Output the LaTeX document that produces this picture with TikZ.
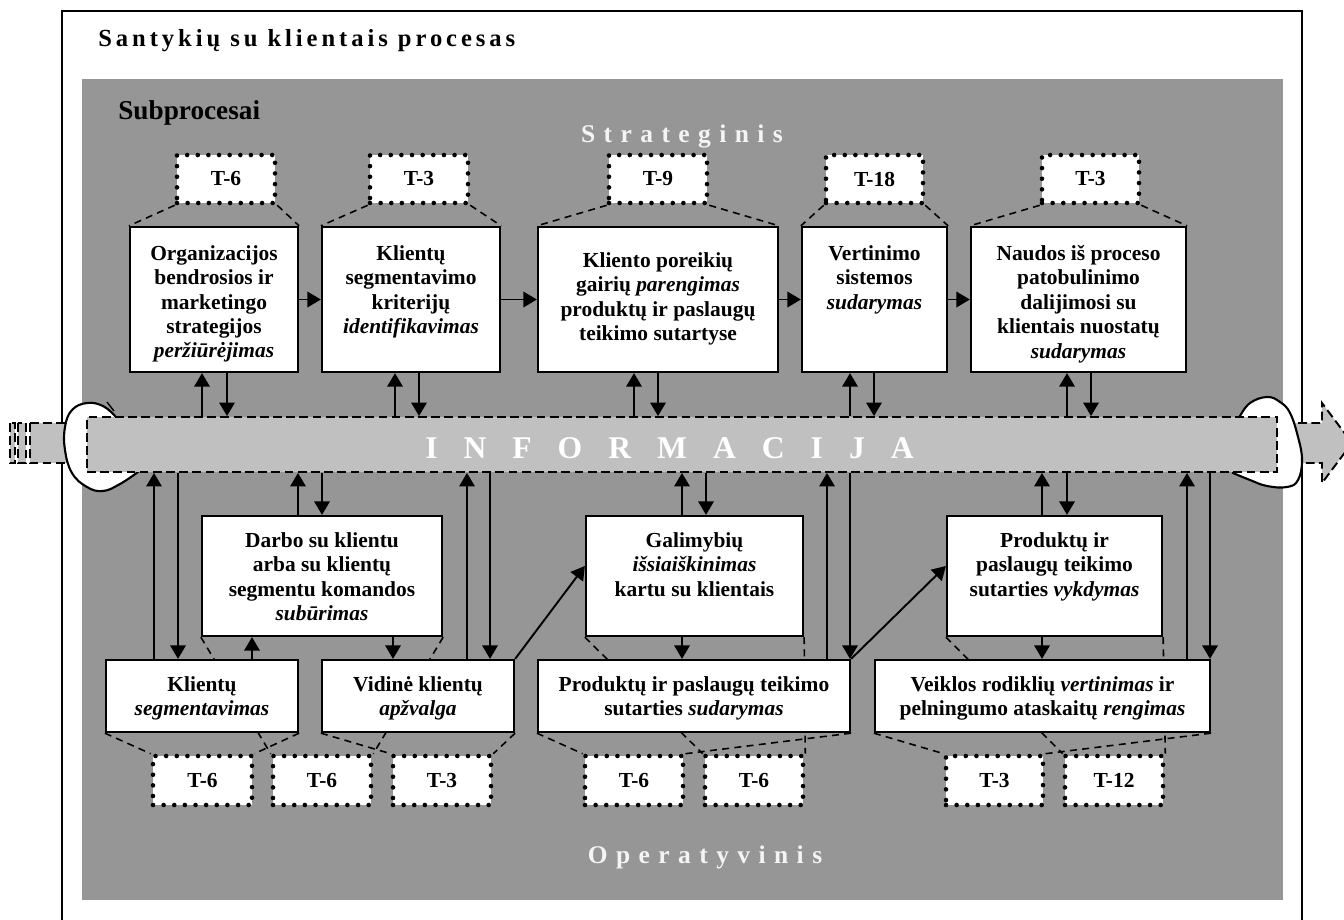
\documentclass[tikz,border=0pt]{standalone}
\usepackage{fontspec}
\setmainfont{Liberation Serif}
\usetikzlibrary{arrows.meta,fit}
\definecolor{panel}{RGB}{150,150,150}
\definecolor{bandgray}{RGB}{192,192,192}
\definecolor{pale}{RGB}{244,244,244}
\pgfdeclarelayer{under}
\pgfdeclarelayer{guides}
\pgfsetlayers{under,guides,main}
\tikzset{
  box/.style={draw, line width=1.3pt, fill=white, inner sep=0pt},
  tbox/.style={draw, fill=white, inner sep=0pt, line width=2.6pt, line cap=round,
    dash pattern=on 0pt off 6.05pt},
  tlabel/.style={font=\bfseries\fontsize{12.2}{14}\selectfont, inner sep=0pt},
  txt/.style={font=\bfseries\fontsize{12.2}{13.9}\selectfont, align=center, inner sep=0pt, anchor=north},
  link/.style={line width=1.1pt, -{Triangle[length=0.27cm,width=0.31cm]}},
  guide/.style={line width=0.9pt, dash pattern=on 4pt off 3pt},
  bandline/.style={line width=1.1pt, dash pattern=on 5pt off 2.5pt},
  blob/.style={line width=1.2pt, fill=white},
}
\begin{document}
\begin{tikzpicture}[x=0.02cm,y=-0.02cm]
\useasboundingbox (0,0) rectangle (1344,919);

% ---------- background: frame, panel, flow of information ----------
\begin{pgfonlayer}{under}
  \draw[line width=1.2pt] (62,930) -- (62,11) -- (1302,11) -- (1302,930);
  \fill[panel] (82,79) rectangle (1283,900);
  % striped tail on the left
  \draw[bandline, fill=bandgray] (10,423) rectangle (15,463);
  \draw[bandline, fill=bandgray] (18,423) rectangle (26,463);
  \draw[bandline, fill=bandgray] (30,423) rectangle (80,463);
  % arrow head on the right
  \draw[bandline, fill=bandgray] (1285,423) -- (1322,423) -- (1322,403) -- (1352,443)
        -- (1322,483) -- (1322,463) -- (1285,463) -- cycle;
  % rounded caps at both ends of the band
  \draw[blob] plot[smooth, tension=0.7] coordinates {(138,472) (120,484) (103,491) (87,487)
        (72,473) (65,450) (65,427) (72,410) (87,403) (103,406) (115,416)} -- (125,445) -- cycle;
  \draw[line width=0.8pt] (107,402) -- (114,411);
  \draw[blob] plot[smooth, tension=0.7] coordinates {(1233,473) (1250,480) (1267,486) (1287,487)
        (1298,480) (1302,460) (1298,437) (1290,413) (1280,402) (1267,397) (1250,403) (1240,416)}
        -- (1236,445) -- cycle;
\end{pgfonlayer}

% ---------- information band ----------
\node[draw, fill=bandgray, bandline, inner sep=0pt, fit={(87,417) (1277,472)}] (band) {};
\node[font=\bfseries\fontsize{18}{20}\selectfont, text=white, anchor=base, inner sep=0pt]
  (info) at (669.5,458) {\spaceskip=14.8pt I N F O R M A C I J A};

% ---------- headings ----------
\node[anchor=base west, inner sep=0pt,
  font=\bfseries\fontsize{14}{16}\selectfont\addfontfeatures{LetterSpace=16}]
  (title) at (98,47) {Santykių su klientais procesas};
\node[anchor=base west, inner sep=0pt, font=\bfseries\fontsize{15.5}{18}\selectfont]
  (sub) at (118,119) {Subprocesai};
\node[anchor=base, inner sep=0pt, text=pale, font=\bfseries\fontsize{14.5}{17}\selectfont]
  (strat) at (682,142) {\spaceskip=4.8pt S t r a t e g i n i s};
\node[anchor=base, inner sep=0pt, text=pale, font=\bfseries\fontsize{14.5}{17}\selectfont]
  (oper) at (705,863) {\spaceskip=4.8pt O p e r a t y v i n i s};

% ---------- strategic subprocesses ----------
\node[box, fit={(130,227) (298,372)}] (b1) {};
\node[box, fit={(322,227) (500,372)}] (b2) {};
\node[box, fit={(538,227) (778,372)}] (b3) {};
\node[box, fit={(802,227) (947,372)}] (b4) {};
\node[box, fit={(971,227) (1186,372)}] (b5) {};
\node[txt] (b1t) at (214,245) {Organizacijos\\bendrosios ir\\marketingo\\strategijos\\\textit{peržiūrėjimas}};
\node[txt] (b2t) at (411,245) {Klientų\\segmentavimo\\kriterijų\\\textit{identifikavimas}};
\node[txt] (b3t) at (658,252) {Kliento poreikių\\gairių \textit{parengimas}\\produktų ir paslaugų\\teikimo sutartyse};
\node[txt] (b4t) at (874.5,245) {Vertinimo\\sistemos\\\textit{sudarymas}};
\node[txt] (b5t) at (1078.5,245) {Naudos iš proceso\\patobulinimo\\dalijimosi su\\klientais nuostatų\\\textit{sudarymas}};

% ---------- operative subprocesses ----------
\node[box, fit={(202,516) (442,636)}] (dar) {};
\node[box, fit={(586,516) (803,636)}] (gal) {};
\node[box, fit={(947,516) (1162,636)}] (vyk) {};
\node[box, fit={(106,660) (298,732)}] (seg) {};
\node[box, fit={(322,660) (514,732)}] (vid) {};
\node[box, fit={(538,660) (850,732)}] (sut) {};
\node[box, fit={(875,660) (1210,732)}] (vei) {};
\node[txt] (dart) at (322,532) {Darbo su klientu\\arba su klientų\\segmentu komandos\\\textit{subūrimas}};
\node[txt] (galt) at (694.5,532) {Galimybių\\\textit{išsiaiškinimas}\\kartu su klientais};
\node[txt] (vykt) at (1054.5,532) {Produktų ir\\paslaugų teikimo\\sutarties \textit{vykdymas}};
\node[txt] (segt) at (202,676) {Klientų\\\textit{segmentavimas}};
\node[txt] (vidt) at (418,676) {Vidinė klientų\\\textit{apžvalga}};
\node[txt] (sutt) at (694,676) {Produktų ir paslaugų teikimo\\sutarties \textit{sudarymas}};
\node[txt] (veit) at (1042.5,676) {Veiklos rodiklių \textit{vertinimas} ir\\pelningumo ataskaitų \textit{rengimas}};

% ---------- durations ----------
\foreach \n/\xa/\ya/\xb/\yb/\lab in {
    ta/177/155/275/203/T-6, tb/370/155/468/203/T-3, tc/609/155/707/203/T-9,
    td/826/155/923/203/T-18, te/1042/155/1139/203/T-3,
    tf/153/756/252/805/T-6, tg/273/756/371/805/T-6, th/393/756/491/805/T-3,
    ti/585/756/683/805/T-6, tj/705/756/803/805/T-6, tk/946/756/1043/805/T-3,
    tl/1065/756/1163/805/T-12} {
  \node[tbox, fit={(\xa,\ya) (\xb,\yb)}, label={[tlabel]center:\lab}] (\n) {};
}

% ---------- guides from durations to subprocesses ----------
\begin{pgfonlayer}{guides}
  \foreach \t/\b in {ta/b1, tb/b2, tc/b3, td/b4, te/b5} {
    \draw[guide] (\t.south west) -- (\b.north west);
    \draw[guide] (\t.south east) -- (\b.north east);
  }
  \foreach \b/\t in {seg/tf, dar/tg, vid/th, sut/ti, gal/tj, vei/tk, vyk/tl} {
    \draw[guide] (\b.south west) -- (\t.north west);
    \draw[guide] (\b.south east) -- (\t.north east);
  }
\end{pgfonlayer}

% ---------- flow between strategic subprocesses ----------
\draw[link] (b1.east) -- (b2.west);
\draw[link] (b2.east) -- (b3.west);
\draw[link] (b3.east) -- (b4.west);
\draw[link] (b4.east) -- (b5.west);

% ---------- exchange with the information band (strategic) ----------
\foreach \b/\u/\d in {b1/202/227, b2/395/419, b3/634/658, b4/850/874, b5/1067/1091} {
  \draw[link] (band.north -| \u,0) -- (\b.south -| \u,0);
  \draw[link] (\b.south -| \d,0) -- (band.north -| \d,0);
}

% ---------- exchange with the information band (operative) ----------
\foreach \b/\u/\d in {seg/154/178, dar/298/322, vid/467/490, gal/682/706,
                      sut/827/850, vyk/1042/1067, vei/1187/1210} {
  \draw[link] (\b.north -| \u,0) -- (band.south -| \u,0);
  \draw[link] (band.south -| \d,0) -- (\b.north -| \d,0);
}

% ---------- flow between operative subprocesses ----------
\draw[link] (seg.north -| 252,0) -- (dar.south -| 252,0);
\draw[link] (dar.south -| 393,0) -- (vid.north -| 393,0);
\draw[link] (gal.south -| 682,0) -- (sut.north -| 682,0);
\draw[link] (vyk.south -| 1042,0) -- (vei.north -| 1042,0);
\draw[link] (vid.north east) -- (gal.west |- 0,566);
\draw[link] (sut.north east) -- (vyk.west |- 0,566);
\end{tikzpicture}
\end{document}
